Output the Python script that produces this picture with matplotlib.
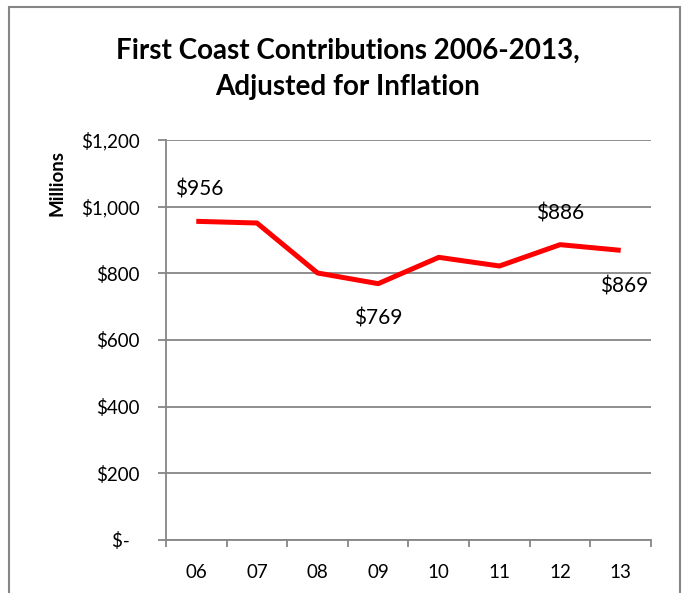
import numpy as np
import matplotlib
matplotlib.use('Agg')
import matplotlib.pyplot as plt
from matplotlib.patches import Rectangle

plt.rcParams['font.family'] = ['Lato', 'DejaVu Sans']

# ── data ────────────────────────────────────────────────────────────
years    = ['06', '07', '08', '09', '10', '11', '12', '13']
millions = [956, 951, 801, 769, 848, 822, 886, 869]
y_ticks  = [0, 200, 400, 600, 800, 1000, 1200]
y_labels = ['$-  ', '$200', '$400', '$600', '$800', '$1,000', '$1,200']
# which points get a label, and where (pixel offsets)
label_idx  = [0, 3, 6, 7]
label_off  = [(3, 32), (0, -35), (0, 31), (3, -36)]

GRID = '#868686'
RED  = '#FF0000'

fig = plt.figure(figsize=(6.85, 5.93), dpi=100)
ax = fig.add_axes([0.2423, 0.0894, 0.9504 - 0.2423, 0.7639 - 0.0894])

x = np.arange(len(years))
ax.plot(x, millions, color=RED, lw=3.6, solid_capstyle='butt', zorder=3)

for i, (dx, dy) in zip(label_idx, label_off):
    ax.annotate(f'${millions[i]}', (x[i], millions[i]), xytext=(dx, dy),
                textcoords='offset pixels', ha='center', va='center',
                fontsize=15, color='black')

ax.set_xlim(-0.5, len(years) - 0.5)
ax.set_ylim(0, 1200)

# x axis: tick marks between categories, labels at centres
ax.set_xticks(np.arange(-0.5, len(years)), labels=[''] * (len(years) + 1))
ax.set_xticks(x, labels=years, minor=True)
ax.tick_params(axis='x', which='major', length=5, width=1.3, color=GRID)
ax.tick_params(axis='x', which='minor', length=0, pad=17, labelsize=13.5)

ax.set_yticks(y_ticks, labels=y_labels)
ax.tick_params(axis='y', length=6, width=1.3, color=GRID, pad=13, labelsize=13.5)

ax.yaxis.grid(True, color=GRID, lw=1.3)
ax.set_axisbelow(True)
for s in ['top', 'right']:
    ax.spines[s].set_visible(False)
for s in ['left', 'bottom']:
    ax.spines[s].set_color(GRID)
    ax.spines[s].set_linewidth(1.3)

fig.text(348 / 685, 1 - 69 / 593, 'First Coast Contributions 2006-2013,\nAdjusted for Inflation',
         ha='center', va='center', fontsize=20, fontweight='bold', linespacing=1.5)
fig.text(57 / 685, 1 - 183 / 593, 'Millions', rotation=90, ha='center', va='center',
         fontsize=13.5, fontweight='bold')

# outer chart frame
fig.patches.append(Rectangle((9 / 685, -0.05), (680 - 9) / 685, 1.05 - 7 / 593,
                             transform=fig.transFigure, fill=False,
                             edgecolor=GRID, lw=1.5))

fig.savefig('out.png', dpi=100)
